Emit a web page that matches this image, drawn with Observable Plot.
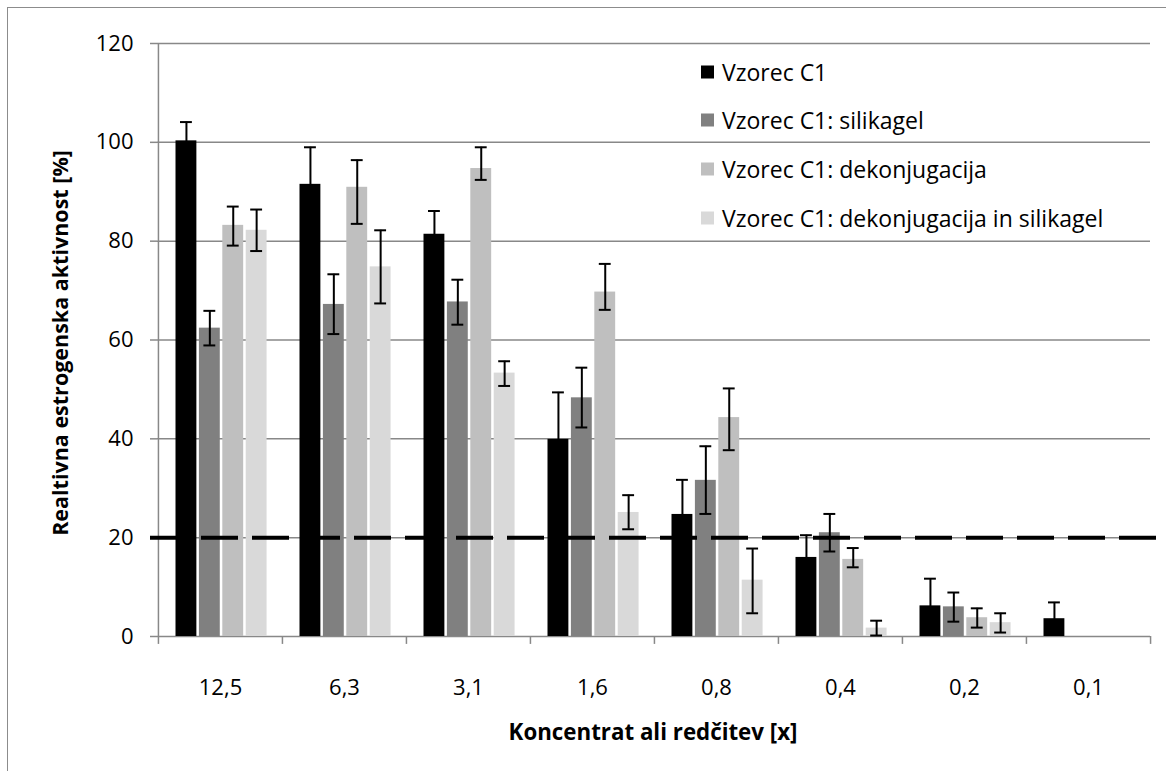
<!DOCTYPE html>
<html><head><meta charset="utf-8">
<script src="https://cdn.jsdelivr.net/npm/d3@7"></script>
<script src="https://cdn.jsdelivr.net/npm/@observablehq/plot@0.6"></script>
<style>
body{margin:0;background:#fff;}
#wrap{position:relative;width:1166px;height:771px;overflow:hidden;font-family:"Open Sans",sans-serif;color:#000;}
#border{position:absolute;left:7px;top:7px;width:1300px;height:900px;border-left:1.5px solid #8c8c8c;border-top:1.5px solid #8c8c8c;box-sizing:border-box;}
#chart{position:absolute;left:0;top:0;}
#chart svg g[aria-label^="y-axis"] line, #chart svg g[aria-label^="y-axis"] path{stroke:#888 !important;stroke-width:1.5px;}
.leg{position:absolute;left:701px;display:flex;align-items:center;font-size:23px;white-space:nowrap;transform:translateY(-50%);line-height:1;}
.sw{width:13px;height:13px;margin-right:8px;flex:none;}
#ytitle{position:absolute;left:60px;top:343px;transform:translate(-50%,-50%) rotate(-90deg);font-weight:bold;font-size:21.5px;white-space:nowrap;line-height:1;}
#xtitle{position:absolute;left:653px;top:732px;transform:translate(-50%,-50%);font-weight:bold;font-size:22.3px;white-space:nowrap;line-height:1;}
</style>
</head><body>
<div id="wrap">
<div id="border"></div>
<div id="chart"></div>
<div id="legend"></div>
<div id="ytitle">Realtivna estrogenska aktivnost [%]</div>
<div id="xtitle">Koncentrat ali redčitev [x]</div>
</div>
<script>
const categories = ["12,5", "6,3", "3,1", "1,6", "0,8", "0,4", "0,2", "0,1"];
const seriesNames = ["Vzorec C1", "Vzorec C1: silikagel", "Vzorec C1: dekonjugacija", "Vzorec C1: dekonjugacija in silikagel"];
const seriesColors = ["#000000", "#808080", "#bfbfbf", "#d9d9d9"];

const valuesC1 = [100.3, 91.5, 81.4, 39.9, 24.7, 16.0, 6.2, 3.6];
const errHiC1  = [104.1, 99.0, 86.1, 49.4, 31.7, 20.5, 11.7, 6.9];
const errLoC1  = [96.5, 84.0, 76.7, 30.4, 17.7, 11.5, 0.7, 0.3];

const valuesSil = [62.4, 67.2, 67.7, 48.3, 31.6, 21.0, 6.0, null];
const errHiSil  = [65.9, 73.3, 72.2, 54.4, 38.5, 24.8, 8.9, null];
const errLoSil  = [58.9, 61.2, 63.1, 42.3, 24.8, 17.2, 3.0, null];

const valuesDek = [83.2, 90.9, 94.7, 69.7, 44.3, 15.6, 3.8, null];
const errHiDek  = [87.0, 96.4, 99.0, 75.4, 50.2, 17.9, 5.7, null];
const errLoDek  = [79.1, 83.5, 92.4, 66.1, 37.7, 14.0, 1.8, null];

const valuesDekSil = [82.2, 74.8, 53.3, 25.1, 11.4, 1.7, 2.8, null];
const errHiDekSil  = [86.4, 82.2, 55.7, 28.6, 17.8, 3.2, 4.7, null];
const errLoDekSil  = [78.0, 67.4, 50.7, 21.7, 4.7, 0.2, 0.8, null];

const threshold = 20;
const yTicks = [0, 20, 40, 60, 80, 100, 120];

const seriesValues = [valuesC1, valuesSil, valuesDek, valuesDekSil];
const seriesHi = [errHiC1, errHiSil, errHiDek, errHiDekSil];
const seriesLo = [errLoC1, errLoSil, errLoDek, errLoDekSil];

// layout
const W = 1166, H = 771, mL = 157, mR = 16, mT = 43, mB = 135;
const bw = (W - mL - mR) / categories.length;
const barOffset = 17.5, barStep = 23.4, barW = 21, capW = 12;

const rowsBySeries = seriesNames.map((s, i) =>
  categories.map((c, j) => ({cat: c, series: s, value: seriesValues[i][j], hi: seriesHi[i][j], lo: seriesLo[i][j]}))
    .filter(d => d.value != null)
);

const marks = [];
// gridlines
marks.push(Plot.ruleY(yTicks, {stroke: "#888", strokeWidth: 1.5}));
// bars
rowsBySeries.forEach((rows, i) => {
  const L = barOffset + barStep * i;
  marks.push(Plot.barY(rows, {x: "cat", y: "value", fill: seriesColors[i], insetLeft: L, insetRight: bw - L - barW}));
});
// y axis line
marks.push(Plot.ruleX([categories[0]], {dx: -bw / 2, y1: 0, y2: 120, stroke: "#888", strokeWidth: 1.5}));
// category boundary ticks
marks.push(Plot.ruleX(categories, {x: d => d, y1: 0, y2: -1.6, dx: -bw / 2, stroke: "#888", strokeWidth: 1.5}));
marks.push(Plot.ruleX([categories[categories.length - 1]], {dx: bw / 2, y1: 0, y2: -1.6, stroke: "#888", strokeWidth: 1.5}));
// threshold dashed line
marks.push(Plot.ruleY([threshold], {stroke: "#000", strokeWidth: 4, strokeDasharray: "37,14", insetLeft: -7, insetRight: -16}));
// error bars
rowsBySeries.forEach((rows, i) => {
  const L = barOffset + barStep * i;
  const center = L + barW / 2;
  const cl = center - capW / 2;
  marks.push(Plot.ruleX(rows, {x: "cat", y1: "lo", y2: "hi", dx: center - bw / 2, stroke: "#000", strokeWidth: 2}));
  marks.push(Plot.tickY(rows, {x: "cat", y: "hi", insetLeft: cl, insetRight: bw - cl - capW, stroke: "#000", strokeWidth: 2}));
  marks.push(Plot.tickY(rows, {x: "cat", y: "lo", insetLeft: cl, insetRight: bw - cl - capW, stroke: "#000", strokeWidth: 2}));
});

const chart = Plot.plot({
  width: W, height: H,
  marginLeft: mL, marginRight: mR, marginTop: mT, marginBottom: mB,
  style: {fontFamily: "Open Sans, sans-serif", fontSize: "22px", color: "#000", background: "transparent", overflow: "visible"},
  x: {domain: categories, padding: 0, tickSize: 0, tickPadding: 43, label: null},
  y: {domain: [0, 120], ticks: yTicks, tickSize: 7, tickPadding: 17, label: null},
  marks
});
document.getElementById("chart").appendChild(chart);

// legend
const legend = document.getElementById("legend");
const legendY = [71.5, 120.3, 169.1, 217.9];
seriesNames.forEach((s, i) => {
  const row = document.createElement("div");
  row.className = "leg";
  row.style.top = legendY[i] + "px";
  const sw = document.createElement("span");
  sw.className = "sw";
  sw.style.background = seriesColors[i];
  const t = document.createElement("span");
  t.textContent = s;
  row.appendChild(sw); row.appendChild(t);
  legend.appendChild(row);
});
</script>
</body></html>
